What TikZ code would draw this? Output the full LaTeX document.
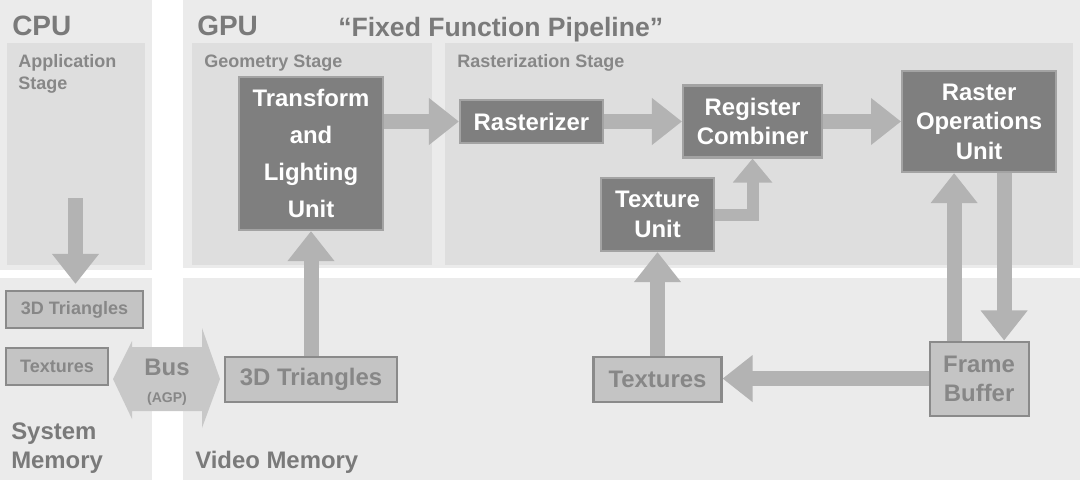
\documentclass[tikz,border=0pt]{standalone}
\usepackage{fontspec}
\setmainfont{Liberation Sans}
\usepackage{tikz}
\usetikzlibrary{arrows.meta}
\definecolor{panelGray}{HTML}{EBEBEB}
\definecolor{stageGray}{HTML}{DEDEDE}
\definecolor{unitGray}{HTML}{7F7F7F}
\definecolor{unitEdge}{HTML}{A3A3A3}
\definecolor{memGray}{HTML}{C4C4C4}
\definecolor{memEdge}{HTML}{8A8A8A}
\definecolor{arrowGray}{HTML}{B3B3B3}
\definecolor{busGray}{HTML}{C8C8C8}
\definecolor{titleGray}{HTML}{7A7A7A}
\definecolor{labelGray}{HTML}{878787}
\tikzstyle{panel} = [fill=panelGray]
\tikzstyle{stage} = [fill=stageGray]
\tikzstyle{pipeUnit} = [rectangle, draw=unitEdge, line width=1.5pt, fill=unitGray, text=white, align=center, inner sep=0pt, font={\bfseries\fontsize{17pt}{21pt}\selectfont}]
\tikzstyle{memBlock} = [rectangle, draw=memEdge, line width=1.5pt, fill=memGray, text=labelGray, align=center, inner sep=0pt, font={\bfseries\fontsize{17pt}{20.6pt}\selectfont}]
\tikzstyle{smallMemBlock} = [memBlock, font={\bfseries\fontsize{12.8pt}{15pt}\selectfont}]
\tikzstyle{heading} = [anchor=base west, inner sep=0pt, text=titleGray, font={\bfseries\fontsize{19.9pt}{24pt}\selectfont}]
\tikzstyle{memLabel} = [heading, align=left, font={\bfseries\fontsize{17pt}{20.6pt}\selectfont}]
\tikzstyle{stageLabel} = [anchor=base west, inner sep=0pt, text=labelGray, align=left, font={\bfseries\fontsize{12.8pt}{15.6pt}\selectfont}]
\tikzstyle{arrow} = [draw=arrowGray, line width=0.375cm, -{Triangle[width=1.125cm,length=0.75cm]}]
\tikzstyle{smallArrow} = [draw=arrowGray, line width=0.3cm, -{Triangle[width=0.95cm,length=0.6cm]}]

\begin{document}
\begin{tikzpicture}[x=0.025cm, y=-0.025cm]
	\useasboundingbox (0,0) rectangle (1080,480);
	\fill [white] (0,0) rectangle (1080,480);
	\fill [panel] (0,0) rectangle (152,270);
	\fill [panel] (183,0) rectangle (1080,268);
	\fill [panel] (0,278) rectangle (152,480);
	\fill [panel] (183,278) rectangle (1080,480);
	\fill [stage] (7,43) rectangle (145,265);
	\fill [stage] (192,43) rectangle (432,265);
	\fill [stage] (445,43) rectangle (1073,265);
	
	\node (cpu) [heading] at (12,35) {CPU};
	\node (gpu) [heading] at (197,35) {GPU};
	\node (pipeline) [heading, font={\bfseries\fontsize{18.9pt}{22pt}\selectfont}] at (338,36) {“Fixed Function Pipeline”};
	\node (appStage) [stageLabel, anchor=north west] at (18,54) {Application\\Stage};
	\node (geoStage) [stageLabel] at (204,67) {Geometry Stage};
	\node (rastStage) [stageLabel] at (457,67) {Rasterization Stage};
	\node (sysMem) [memLabel, anchor=north west] at (11,423) {System\\Memory};
	\node (vidMem) [memLabel] at (195,468) {Video Memory};
	
	\node (tnl) [pipeUnit, minimum width=3.6cm, minimum height=3.825cm, font={\bfseries\fontsize{17pt}{26.3pt}\selectfont}] at (311,153.5) {Transform\\and\\Lighting\\Unit};
	\node (rast) [pipeUnit, minimum width=3.575cm, minimum height=1.075cm] at (531.5,121.5) {Rasterizer};
	\node (comb) [pipeUnit, right of=rast, node distance=5.525cm, minimum width=3.475cm, minimum height=1.8cm] {Register\\Combiner};
	\node (rop) [pipeUnit, right of=comb, node distance=5.6625cm, minimum width=3.85cm, minimum height=2.525cm] {Raster\\Operations\\Unit};
	\node (texUnit) [pipeUnit, minimum width=2.825cm, minimum height=1.825cm] at (657.5,214.5) {Texture\\Unit};
	
	\node (sysTri) [smallMemBlock, minimum width=3.425cm, minimum height=0.925cm] at (74.5,309.5) {3D Triangles};
	\node (sysTex) [smallMemBlock, minimum width=2.55cm, minimum height=0.925cm] at (57,366.5) {Textures};
	\node (vidTri) [memBlock, below of=tnl, node distance=5.65cm, minimum width=4.3cm, minimum height=1.125cm] {3D Triangles};
	\node (vidTex) [memBlock, below of=texUnit, node distance=4.125cm, minimum width=3.2cm, minimum height=1.125cm] {Textures};
	\node (fb) [memBlock, below of=rop, node distance=6.425cm, minimum width=2.475cm, minimum height=1.85cm] {Frame\\Buffer};
	
	\fill [busGray] (113,379) -- (132,341) -- (132,347) -- (202,347) -- (202,328) -- (220,379) -- (202,428) -- (202,411) -- (132,411) -- (132,419) -- cycle;
	\node (bus) [anchor=base, inner sep=0pt, text=labelGray, font={\bfseries\fontsize{17pt}{20pt}\selectfont}] at (167,375) {Bus};
	\node (agp) [anchor=base, inner sep=0pt, text=labelGray, font={\bfseries\fontsize{10pt}{12pt}\selectfont}] at (167,402) {(AGP)};
	
	\coordinate (appOut) at (75.5,198);
	\draw [arrow, shorten >=0.15cm] (appOut) -- (appOut |- sysTri.north);
	\draw [arrow] (vidTri) -- (tnl);
	\draw [arrow] (tnl.east |- rast.west) -- (rast.west);
	\draw [arrow] (rast) -- (comb);
	\draw [arrow] (comb) -- (rop);
	\draw [smallArrow] (texUnit.east) -| (comb.south);
	\draw [arrow] (vidTex) -- (texUnit);
	\draw [arrow] ([xshift=-0.625cm]fb.north) -- ([xshift=-0.625cm]rop.south);
	\draw [arrow] ([xshift=0.625cm]rop.south) -- ([xshift=0.625cm]fb.north);
	\draw [arrow] (fb.west) -- (fb.west -| vidTex.east);
\end{tikzpicture}
\end{document}
